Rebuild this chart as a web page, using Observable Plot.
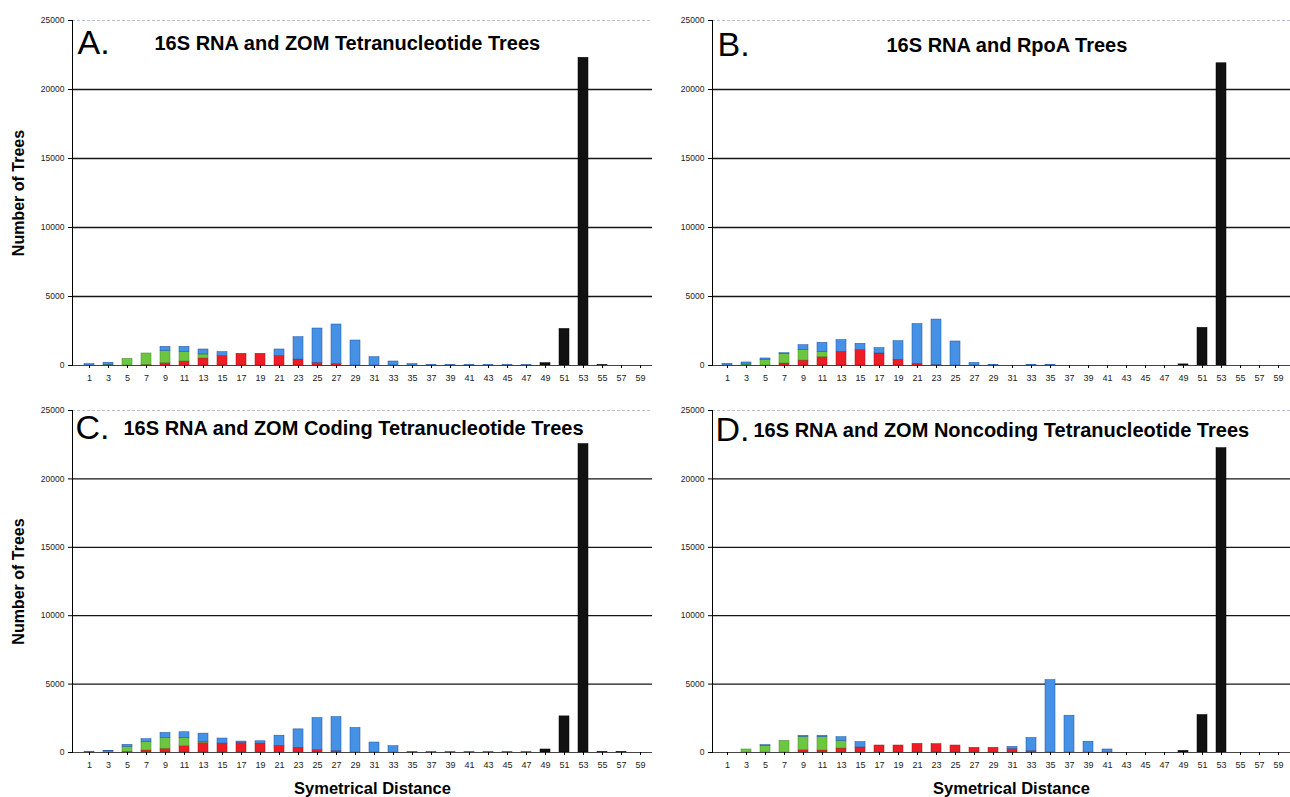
<!DOCTYPE html>
<html><head><meta charset="utf-8">
<script src="https://cdn.jsdelivr.net/npm/d3@7"></script>
<script src="https://cdn.jsdelivr.net/npm/@observablehq/plot@0.6"></script>
<style>
body{margin:0;background:#fff;}
#wrap{position:relative;width:1290px;height:797px;overflow:hidden;font-family:"Liberation Sans",Arial,sans-serif;background:#fff;}
#wrap svg{position:absolute;background:transparent !important;overflow:visible;}
g[aria-label="y-axis label"] text{font-weight:bold;font-size:16px;fill:#000;}
</style></head><body><div id="wrap"></div>
<script>
const distances = d3.range(1, 60, 2);
const seriesNames = ["red", "green", "blue", "black"];
const fillColors = {red: "#ee1c25", green: "#6cc63f", blue: "#4491e6", black: "#111111"};
const strokeColors = {red: "#a8101a", green: "#3f8a26", blue: "#1d4f9c", black: "#000000"};
const yTicks = [0, 5000, 10000, 15000, 20000, 25000];
const gridValues = [5000, 10000, 15000, 20000];

// Panel A: 16S RNA and ZOM Tetranucleotide Trees
const aRed   = [0,0,0,30,170,290,510,680,850,850,680,430,190,100,0,0,0,0,0,0,0,0,0,0,0,0,0,0,0,0];
const aGreen = [0,50,480,840,870,700,290,0,0,0,0,0,0,0,0,0,0,0,0,0,0,0,0,0,0,0,0,0,0,0];
const aBlue  = [100,150,0,0,310,360,360,290,0,0,480,1620,2490,2870,1810,600,290,100,30,20,20,20,20,20,0,0,0,0,0,0];
const aBlack = [0,0,0,0,0,0,0,0,0,0,0,0,0,0,0,0,0,0,0,0,0,0,0,0,170,2650,22300,20,0,0];

// Panel B: 16S RNA and RpoA Trees
const bRed   = [0,0,0,150,360,600,990,1110,870,410,120,30,0,0,0,0,0,0,0,0,0,0,0,0,0,0,0,0,0,0];
const bGreen = [0,70,400,680,750,390,0,0,0,0,0,0,0,0,0,0,0,0,0,0,0,0,0,0,0,0,0,0,0,0];
const bBlue  = [120,150,110,60,360,650,850,460,390,1350,2880,3300,1740,190,50,0,50,50,0,0,0,0,0,0,0,0,0,0,0,0];
const bBlack = [0,0,0,0,0,0,0,0,0,0,0,0,0,0,0,0,0,0,0,0,0,0,0,0,80,2730,21900,0,0,0];

// Panel C: 16S RNA and ZOM Coding Tetranucleotide Trees
const cRed   = [0,0,50,150,270,460,700,650,700,650,480,340,170,100,0,0,0,0,0,0,0,0,0,0,0,0,0,0,0,0];
const cGreen = [0,80,360,600,800,580,80,0,0,0,0,0,0,0,0,0,0,0,0,0,0,0,0,0,0,0,0,0,0,0];
const cBlue  = [60,40,150,220,360,440,600,370,100,170,750,1350,2350,2490,1790,730,460,30,20,20,20,20,20,20,0,0,0,0,0,0];
const cBlack = [0,0,0,0,0,0,0,0,0,0,0,0,0,0,0,0,0,0,0,0,0,0,0,0,220,2640,22550,20,20,0];

// Panel D: 16S RNA and ZOM Noncoding Tetranucleotide Trees
const dRed   = [0,0,0,0,170,150,290,370,510,510,630,610,510,340,340,250,100,0,0,0,0,0,0,0,0,0,0,0,0,0];
const dGreen = [0,220,480,850,970,970,560,0,0,0,0,0,0,0,0,0,0,0,0,0,0,0,0,0,0,0,0,0,0,0];
const dBlue  = [0,0,60,0,80,100,270,390,0,0,0,0,0,0,0,160,960,5290,2690,790,220,0,0,0,0,0,0,0,0,0];
const dBlack = [0,0,0,0,0,0,0,0,0,0,0,0,0,0,0,0,0,0,0,0,0,0,0,0,120,2740,22250,0,0,0];

const panels = [
  {letter: "A.", title: "16S RNA and ZOM Tetranucleotide Trees", series: [aRed, aGreen, aBlue, aBlack],
   left: 0, top: 0, width: 660, height: 390, mt: 20, mb: 25, mr: 8, xRange: [78.15, 650.45], yLabel: true, xLabel: false,
   letterDx: 5, letterDy: 23, titleDx: 82, titleDy: 23},
  {letter: "B.", title: "16S RNA and RpoA Trees", series: [bRed, bGreen, bBlue, bBlack],
   left: 640, top: 0, width: 650, height: 390, mt: 20, mb: 25, mr: 0, xRange: [77.17, 647.7], yLabel: false, xLabel: false,
   letterDx: 5, letterDy: 25, titleDx: 174, titleDy: 25},
  {letter: "C.", title: "16S RNA and ZOM Coding Tetranucleotide Trees", series: [cRed, cGreen, cBlue, cBlack],
   left: 0, top: 390, width: 660, height: 407, mt: 20, mb: 45, mr: 8, xRange: [78.15, 650.45], yLabel: true, xLabel: true,
   letterDx: 3, letterDy: 18, titleDx: 51, titleDy: 18},
  {letter: "D.", title: "16S RNA and ZOM Noncoding Tetranucleotide Trees", series: [dRed, dGreen, dBlue, dBlack],
   left: 640, top: 390, width: 650, height: 407, mt: 20, mb: 45, mr: 0, xRange: [77.17, 647.7], yLabel: false, xLabel: true,
   letterDx: 3, letterDy: 20, titleDx: 41, titleDy: 20}
];

const wrap = document.getElementById("wrap");

for (const p of panels) {
  const rows = [];
  p.series.forEach((vals, si) => {
    vals.forEach((v, i) => rows.push({d: distances[i], v, s: seriesNames[si]}));
  });
  const marks = [
    Plot.ruleY([25000], {stroke: "#b8bdd0", strokeDasharray: "3,2"}),
    Plot.gridY(gridValues, {stroke: "#151515", strokeOpacity: 1, strokeWidth: 1.3}),
    Plot.barY(rows, {x: "d", y: "v", z: "s", fill: d => fillColors[d.s], stroke: d => strokeColors[d.s], strokeWidth: 0.5}),
    Plot.ruleY([0], {stroke: "#444", strokeWidth: 1}),
    Plot.frame({anchor: "left", stroke: "#000", strokeWidth: 1}),
    Plot.axisX({tickSize: 3, fontSize: 9, fill: "#222", label: null}),
    Plot.axisY({ticks: yTicks, tickFormat: d => String(d), tickSize: 4, tickPadding: 4, fontSize: 8.5, fill: "#222",
                label: p.yLabel ? "Number of Trees" : null, labelAnchor: "center", labelArrow: "none", labelOffset: 60}),
    Plot.text([p.letter], {frameAnchor: "top-left", dx: p.letterDx, dy: p.letterDy, lineAnchor: "middle",
                fontSize: 34, fill: "#000", text: d => d}),
    Plot.text([p.title], {frameAnchor: "top-left", dx: p.titleDx, dy: p.titleDy, lineAnchor: "middle",
                fontSize: 20, fontWeight: "bold", fill: "#000", text: d => d})
  ];
  if (p.xLabel) {
    marks.push(Plot.text(["Symetrical Distance"], {frameAnchor: "bottom", dx: 10, dy: 36, lineAnchor: "middle",
                fontSize: 16.5, fontWeight: "bold", fill: "#000", text: d => d}));
  }
  const chart = Plot.plot({
    width: p.width,
    height: p.height,
    marginLeft: 72,
    marginRight: p.mr,
    marginTop: p.mt,
    marginBottom: p.mb,
    style: {fontFamily: '"Liberation Sans", Arial, sans-serif', background: "transparent", overflow: "visible"},
    x: {type: "band", domain: distances, range: p.xRange, paddingInner: 0.5, paddingOuter: 0},
    y: {domain: [0, 25000]},
    color: {type: "identity"},
    marks
  });
  chart.style.left = p.left + "px";
  chart.style.top = p.top + "px";
  wrap.appendChild(chart);
}
</script>
</body></html>
